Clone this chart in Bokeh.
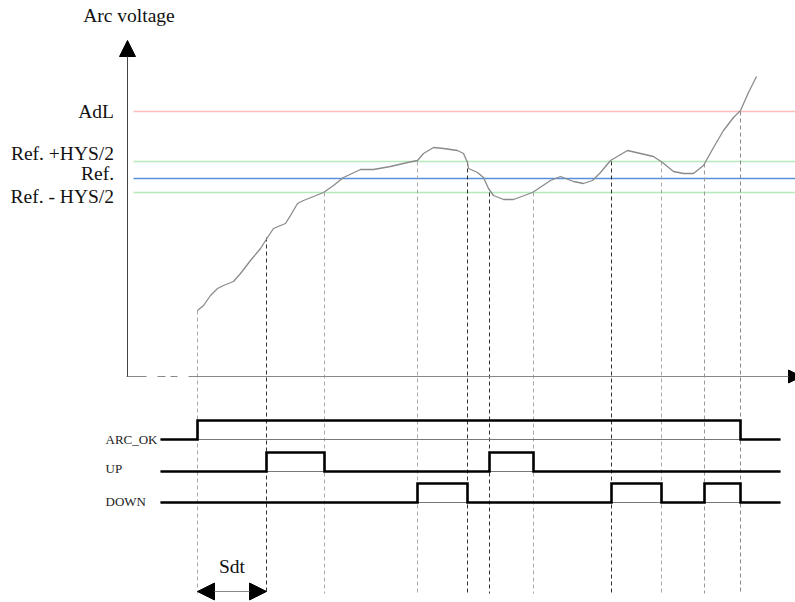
from bokeh.plotting import figure
from bokeh.models import Range1d, Arrow, NormalHead
from bokeh.embed import file_html
from bokeh.resources import INLINE
from bokeh.core.properties import value

# ---------------- data (time t, arc voltage v; arbitrary units) ----------------
curve_t = [70, 76, 83, 90, 96, 106, 113, 123, 133, 140, 146, 153, 158, 163, 170, 176,
           186, 196, 206, 216, 233, 246, 263, 280, 290, 296, 306, 316, 330, 336, 340,
           341, 350, 356, 361, 366, 376, 386, 405, 423, 433, 446, 456, 465, 473, 483,
           500, 513, 526, 535, 546, 556, 566, 576, 586, 596, 606, 613, 621, 629]
curve_v = [66, 71, 81, 88, 91, 95, 103, 116, 128, 139, 148, 151, 153, 161, 173, 176,
           180, 184, 191, 199, 207, 207, 210, 214, 216, 223, 229, 228, 226, 223, 214,
           208, 204, 199, 188, 181, 177, 177, 184, 196, 200, 195, 193, 196, 204, 216,
           226, 223, 220, 214, 205, 203, 203, 211, 229, 246, 259, 266, 284, 300]

level_names = ["AdL", "Ref. +HYS/2", "Ref.", "Ref. - HYS/2"]
level_values = [265, 215, 198, 184]

# switching instants and the voltage at which each is triggered
event_t = [70, 139, 197, 290, 340, 362, 406, 484, 534, 577, 613]
event_v = [66, 139, 184, 215, 215, 184, 184, 215, 215, 213, 265]

signal_names = ["ARC_OK", "UP", "DOWN"]
signal_span = (33, 653)
arc_ok_on = [(70, 613)]
up_on = [(139, 197), (362, 406)]
down_on = [(290, 340), (484, 534), (577, 613)]
sdt_span = (70, 139)

# ---------------- layout / style ----------------
level_colors = ["#ffbcbc", "#b4eabc", "#5a8fdc", "#b4eabc"]
level_label_v = [265.5, 223.5, 203, 180]
event_colors = ["#aaaaaa", "#333333", "#aaaaaa", "#aaaaaa", "#333333", "#333333",
                "#aaaaaa", "#333333", "#aaaaaa", "#999999", "#888888"]
signal_base = [-63, -95, -126]
signal_high = 19
signal_label_v = [-63, -91.5, -124.5]
serif = value("Liberation Serif")

p = figure(width=795, height=602, x_range=Range1d(-127, 668), y_range=Range1d(-226, 376),
           x_axis_type=None, y_axis_type=None, toolbar_location=None,
           output_backend="svg", min_border=0)
p.grid.visible = False
p.outline_line_color = None
p.background_fill_color = "white"

# reference levels
for lv, col in zip(level_values, level_colors):
    p.line([6, 670], [lv, lv], line_color=col, line_width=1.6)

p.text(x=[-13.5] * 4, y=level_label_v, text=level_names, text_font=serif,
       text_font_size="19.5px", text_align="right", text_baseline="alphabetic",
       text_color="#111111")
p.text(x=[1.5], y=[361], text=["Arc voltage"], text_font=serif, text_font_size="19.5px",
       text_align="center", text_baseline="alphabetic", text_color="#111111")

# vertical dashed event lines
for t, v, col in zip(event_t, event_v, event_colors):
    p.line([t, t], [v, -217], line_color=col, line_width=1, line_dash="4 3")

# axes
p.add_layout(Arrow(x_start=0, y_start=0, x_end=0, y_end=336, line_color="#444444",
                   line_width=1,
                   end=NormalHead(size=16, fill_color="black", line_color="black")))
p.segment(x0=[-1, 30, 43], y0=[0, 0, 0], x1=[19, 38, 50], y1=[0, 0, 0],
          line_color="#888888", line_width=1)
p.add_layout(Arrow(x_start=61, y_start=0, x_end=674, y_end=0, line_color="#888888",
                   line_width=1,
                   end=NormalHead(size=13, fill_color="black", line_color="black")))

# arc voltage curve
p.line(curve_t, curve_v, line_color="#8a8a8a", line_width=1.3)

# logic signals
def step(base, pulses):
    xs, ys = [signal_span[0]], [base]
    for a, b in pulses:
        xs += [a, a, b, b]
        ys += [base, base + signal_high, base + signal_high, base]
    xs.append(signal_span[1])
    ys.append(base)
    return xs, ys

for base, pulses in zip(signal_base, [arc_ok_on, up_on, down_on]):
    p.line(list(signal_span), [base, base], line_color="#777777", line_width=1)
    xs, ys = step(base, pulses)
    p.line(xs, ys, line_color="black", line_width=2.6, line_join="miter")

p.text(x=[-22] * 3, y=signal_label_v, text=signal_names, text_font=serif,
       text_font_size="13px", text_align="left", text_baseline="alphabetic",
       text_color="#222222")

# Sdt
p.text(x=[(sdt_span[0] + sdt_span[1]) / 2], y=[-190], text=["Sdt"], text_font=serif,
       text_font_size="19.5px", text_align="center", text_baseline="alphabetic",
       text_color="#111111")
p.add_layout(Arrow(x_start=sdt_span[0], y_start=-215, x_end=sdt_span[1], y_end=-215,
                   line_color="#888888", line_width=1,
                   start=NormalHead(size=17, fill_color="black", line_color="black"),
                   end=NormalHead(size=17, fill_color="black", line_color="black")))

open("out.html", "w").write(file_html(p, INLINE))
